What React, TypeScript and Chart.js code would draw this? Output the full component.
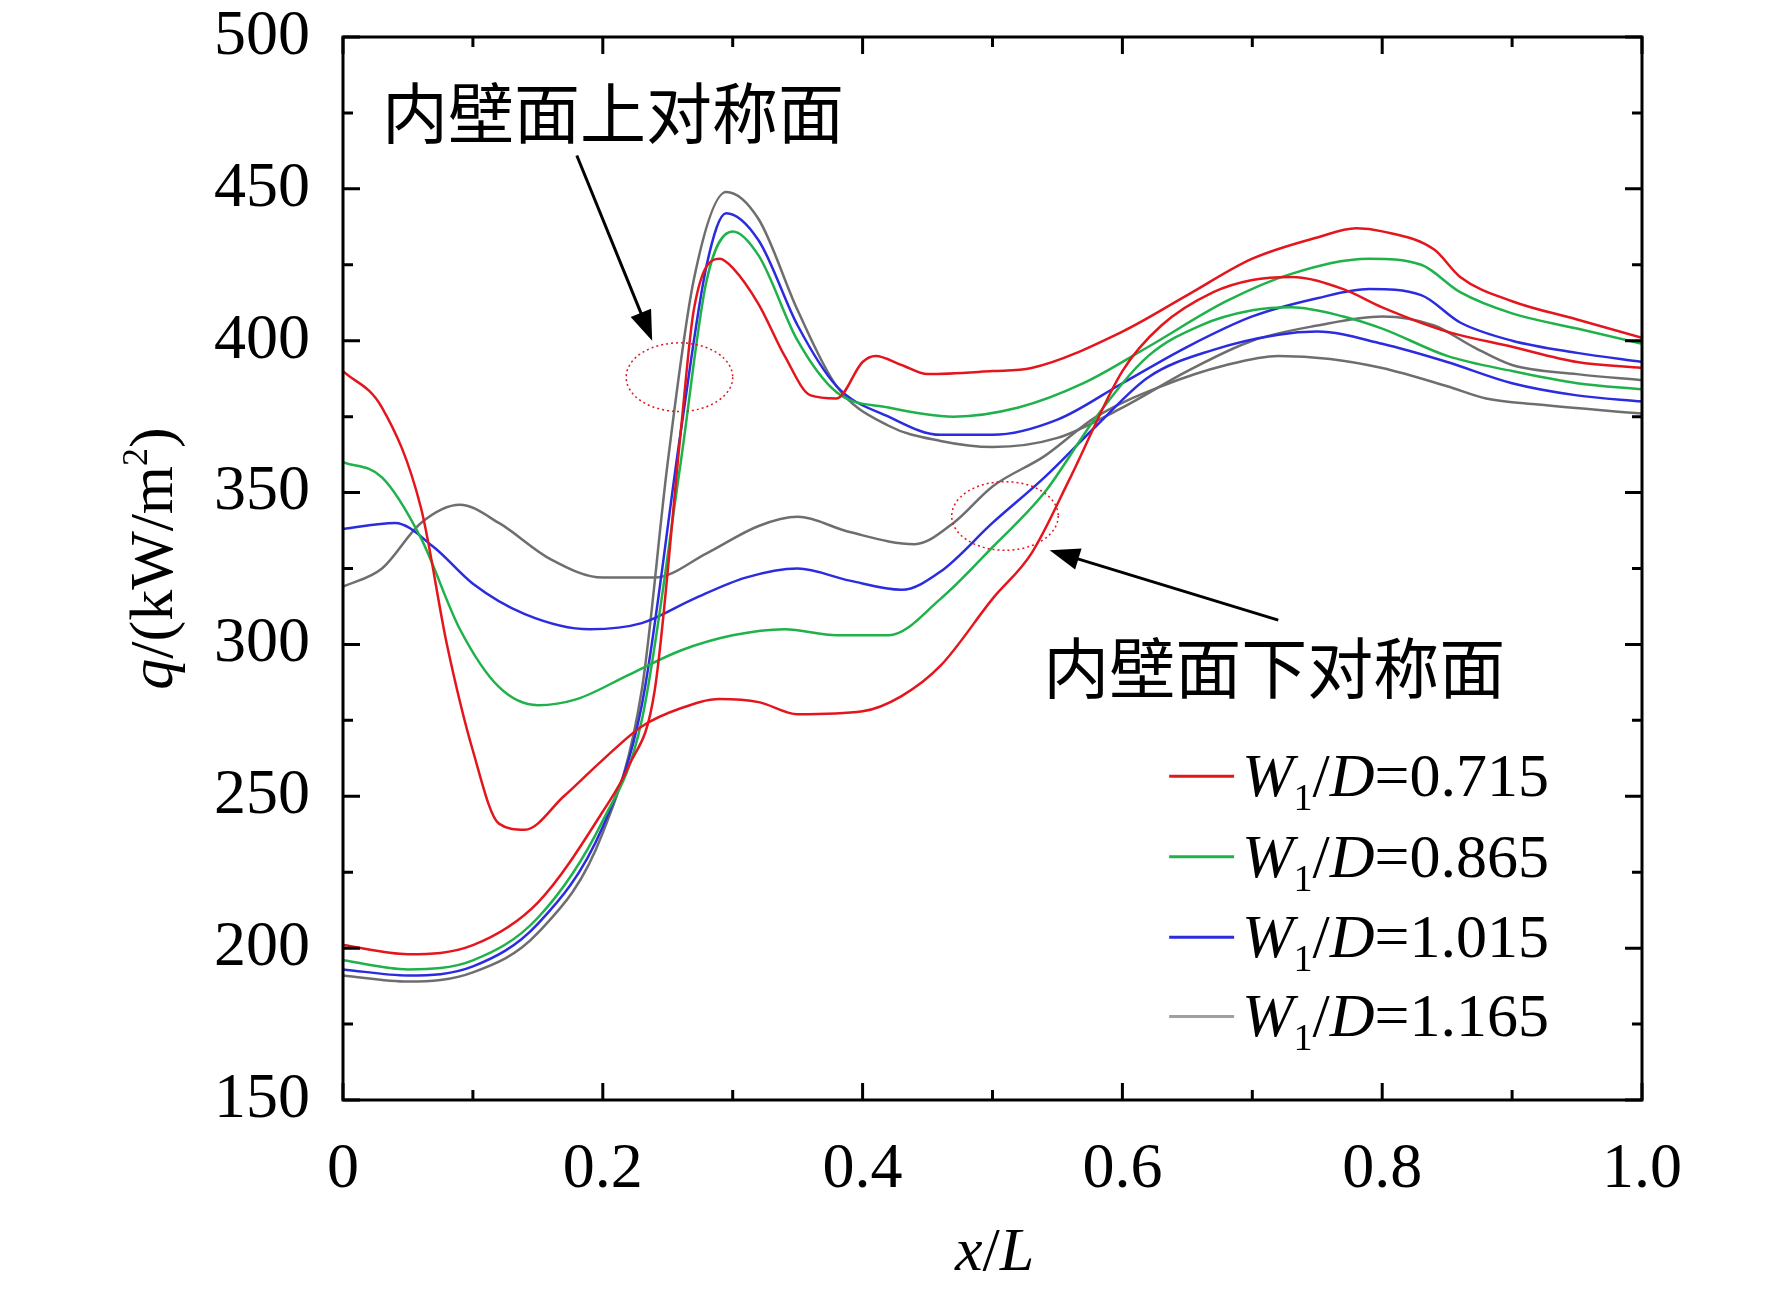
import React, { useEffect, useRef } from "react";
import { Chart, registerables } from "chart.js";
Chart.register(...registerables);

const legendLabels = ["0.715", "0.865", "1.015", "1.165"];
const colors = ["#e3161d", "#1fb24a", "#2b2be0", "#6e6e6e"];
const legendColors = ["#e3161d", "#1fb24a", "#2b2be0", "#a0a0a0"];
const xTicks = [0, 0.2, 0.4, 0.6, 0.8, 1.0];
const xTickLabels = ["0", "0.2", "0.4", "0.6", "0.8", "1.0"];
const yTicks = [150, 200, 250, 300, 350, 400, 450, 500];

type P = [number, number];
const redUpper: P[] = [[0,201],[0.05,198],[0.1,201],[0.15,215],[0.2,245],[0.22,260],[0.24,285],[0.26,370],[0.27,410],[0.29,427],[0.3,424],[0.32,412],[0.34,395],[0.36,382],[0.38,381],[0.4,393],[0.41,395],[0.43,392],[0.45,389],[0.5,390],[0.53,391],[0.6,403],[0.65,415],[0.7,427],[0.75,434],[0.78,437],[0.8,436],[0.84,430],[0.86,421],[0.9,413],[0.95,407],[1.0,401]];
const redLower: P[] = [[0,390],[0.03,378],[0.06,345],[0.08,300],[0.1,265],[0.12,241],[0.14,239],[0.17,250],[0.2,262],[0.23,273],[0.26,279],[0.29,282],[0.32,281],[0.35,277],[0.4,278],[0.43,283],[0.46,293],[0.5,315],[0.53,330],[0.56,355],[0.6,390],[0.63,405],[0.67,416],[0.7,420],[0.73,421],[0.77,417],[0.8,411],[0.85,403],[0.9,398],[0.95,393],[1.0,391]];
const greenUpper: P[] = [[0,196],[0.05,193],[0.1,196],[0.15,210],[0.2,242],[0.23,275],[0.26,360],[0.28,420],[0.3,436],[0.32,428],[0.35,400],[0.38,383],[0.42,378],[0.47,375],[0.52,378],[0.57,386],[0.62,398],[0.68,413],[0.73,422],[0.79,427],[0.83,425],[0.86,416],[0.9,409],[0.95,404],[1.0,399]];
const greenLower: P[] = [[0,360],[0.03,355],[0.06,335],[0.09,305],[0.12,286],[0.15,280],[0.18,282],[0.22,290],[0.26,298],[0.3,303],[0.34,305],[0.38,303],[0.42,303],[0.46,315],[0.5,332],[0.54,350],[0.58,375],[0.62,395],[0.66,405],[0.7,410],[0.73,411],[0.77,408],[0.8,404],[0.85,395],[0.9,390],[0.95,386],[1.0,384]];
const blueUpper: P[] = [[0,193],[0.05,191],[0.1,194],[0.15,208],[0.2,240],[0.23,280],[0.26,370],[0.28,425],[0.295,442],[0.32,433],[0.35,405],[0.38,385],[0.42,375],[0.46,369],[0.5,369],[0.55,374],[0.6,386],[0.65,398],[0.7,408],[0.75,414],[0.79,417],[0.83,415],[0.86,406],[0.9,400],[0.95,396],[1.0,393]];
const blueLower: P[] = [[0,338],[0.04,340],[0.07,332],[0.1,320],[0.14,310],[0.19,305],[0.23,307],[0.27,315],[0.31,322],[0.35,325],[0.39,321],[0.43,318],[0.46,324],[0.5,340],[0.54,355],[0.58,372],[0.62,388],[0.67,397],[0.72,402],[0.75,403],[0.8,399],[0.85,393],[0.9,386],[0.95,382],[1.0,380]];
const grayUpper: P[] = [[0,191],[0.05,189],[0.1,192],[0.15,205],[0.2,238],[0.23,285],[0.25,360],[0.27,420],[0.295,449],[0.32,440],[0.35,410],[0.38,385],[0.42,372],[0.46,367],[0.5,365],[0.55,368],[0.6,378],[0.65,390],[0.7,400],[0.75,405],[0.8,408],[0.84,405],[0.87,398],[0.9,392],[0.95,389],[1.0,387]];
const grayLower: P[] = [[0,319],[0.03,325],[0.06,340],[0.09,346],[0.12,340],[0.16,328],[0.2,322],[0.24,322],[0.28,330],[0.32,339],[0.35,342],[0.39,337],[0.44,333],[0.47,340],[0.5,352],[0.54,362],[0.58,375],[0.63,385],[0.68,392],[0.72,395],[0.76,394],[0.8,391],[0.85,385],[0.88,381],[0.92,379],[1.0,376]];
const seriesPairs = [[redUpper, redLower], [greenUpper, greenLower], [blueUpper, blueLower], [grayUpper, grayLower]];

const upperText = "内壁面上对称面";
const lowerText = "内壁面下对称面";

const SERIF = "'Liberation Serif', 'Times New Roman', serif";
const CJK = "'Noto Sans CJK SC', sans-serif";
const TF = 64; // tick font
const LF = 62; // legend / title font

const decor = {
  id: "decor",
  afterDraw(chart: any) {
    const ctx = chart.ctx;
    const { left, right, top, bottom } = chart.chartArea;
    const xs = chart.scales.x, ys = chart.scales.y;
    const X = (v: number) => xs.getPixelForValue(v);
    const Y = (v: number) => ys.getPixelForValue(v);
    ctx.save();
    ctx.strokeStyle = "#000";
    ctx.lineWidth = 3;
    ctx.strokeRect(left, top, right - left, bottom - top);
    ctx.beginPath();
    for (let v = 0; v <= 1.0001; v += 0.1) {
      const major = Math.round(v * 10) % 2 === 0;
      const L = major ? 17 : 10;
      const px = X(v);
      ctx.moveTo(px, bottom); ctx.lineTo(px, bottom - L);
      ctx.moveTo(px, top); ctx.lineTo(px, top + L);
    }
    for (let v = 150; v <= 500; v += 25) {
      const major = v % 50 === 0;
      const L = major ? 17 : 10;
      const py = Y(v);
      ctx.moveTo(left, py); ctx.lineTo(left + L, py);
      ctx.moveTo(right, py); ctx.lineTo(right - L, py);
    }
    ctx.stroke();
    ctx.fillStyle = "#000";
    ctx.font = `${TF}px ${SERIF}`;
    ctx.textAlign = "right"; ctx.textBaseline = "middle";
    yTicks.forEach((v) => ctx.fillText(String(v), left - 33, Y(v)));
    ctx.textAlign = "center"; ctx.textBaseline = "top";
    xTicks.forEach((v, i) => ctx.fillText(xTickLabels[i], X(v), bottom + 38));
    // x title
    ctx.textAlign = "left"; ctx.textBaseline = "alphabetic";
    const xt = ["x", "/", "L"];
    let w = 0;
    xt.forEach((s) => { ctx.font = s === "/" ? `${LF}px ${SERIF}` : `italic ${LF}px ${SERIF}`; w += ctx.measureText(s).width; });
    let cx = (left + right) / 2 + 2 - w / 2;
    xt.forEach((s) => { ctx.font = s === "/" ? `${LF}px ${SERIF}` : `italic ${LF}px ${SERIF}`; ctx.fillText(s, cx, 1270); cx += ctx.measureText(s).width; });
    // y title
    ctx.save();
    ctx.translate(172, (top + bottom) / 2 - 10);
    ctx.rotate(-Math.PI / 2);
    const parts: [string, string, number][] = [["q", `italic ${LF}px`, 0], ["/(kW/m", `${LF}px`, 0], ["2", "36px", -25], [")", `${LF}px`, 0]];
    let tw = 0;
    parts.forEach(([s, f]) => { ctx.font = `${f} ${SERIF}`; tw += ctx.measureText(s).width; });
    let tx = -tw / 2;
    parts.forEach(([s, f, dy]) => { ctx.font = `${f} ${SERIF}`; ctx.fillText(s, tx, dy); tx += ctx.measureText(s).width; });
    ctx.restore();
    // legend
    legendLabels.forEach((lab, i) => {
      const yv = [256.6, 230.1, 203.6, 177.5][i];
      const py = Y(yv);
      ctx.strokeStyle = legendColors[i]; ctx.lineWidth = 3;
      ctx.beginPath(); ctx.moveTo(X(0.636), py); ctx.lineTo(X(0.686), py); ctx.stroke();
      let lx = X(0.692);
      const base = py + 20;
      const seg: [string, string, number][] = [["W", `italic ${LF}px`, 0], ["1", "38px", 14], ["/", `${LF}px`, 0], ["D", `italic ${LF}px`, 0], ["=" + lab, `${LF}px`, 0]];
      ctx.fillStyle = "#000";
      seg.forEach(([s, f, dy]) => { ctx.font = `${f} ${SERIF}`; ctx.fillText(s, lx, base + dy); lx += ctx.measureText(s).width; });
    });
    // annotations
    ctx.font = `66px ${CJK}`;
    ctx.textBaseline = "middle"; ctx.textAlign = "left";
    ctx.fillText(upperText, X(0.03), Y(475));
    ctx.fillText(lowerText, X(0.539), Y(292.4));
    const arrow = (x1: number, y1: number, x2: number, y2: number) => {
      const a = Math.atan2(y2 - y1, x2 - x1);
      ctx.strokeStyle = "#000"; ctx.lineWidth = 3;
      ctx.beginPath(); ctx.moveTo(x1, y1); ctx.lineTo(x2 - 20 * Math.cos(a), y2 - 20 * Math.sin(a)); ctx.stroke();
      ctx.beginPath();
      ctx.moveTo(x2, y2);
      ctx.lineTo(x2 - 30 * Math.cos(a) + 11 * Math.sin(a), y2 - 30 * Math.sin(a) - 11 * Math.cos(a));
      ctx.lineTo(x2 - 30 * Math.cos(a) - 11 * Math.sin(a), y2 - 30 * Math.sin(a) + 11 * Math.cos(a));
      ctx.closePath(); ctx.fill();
    };
    arrow(X(0.18), Y(461), X(0.238), Y(400));
    arrow(X(0.72), Y(308), X(0.544), Y(331));
    ctx.strokeStyle = "#e3161d"; ctx.lineWidth = 1.5; ctx.setLineDash([2, 3]);
    [[0.259, 388], [0.5096, 342.3]].forEach(([ex, ey]) => {
      const rx = X(ex + 0.041) - X(ex), ry = Y(ey) - Y(ey + 11.3);
      ctx.beginPath(); ctx.ellipse(X(ex), Y(ey), rx, ry, 0, 0, Math.PI * 2); ctx.stroke();
    });
    ctx.restore();
  },
};

export default function App() {
  const ref = useRef<HTMLCanvasElement>(null);
  useEffect(() => {
    document.body.style.margin = "0";
    const datasets: any[] = [];
    seriesPairs.forEach((pair, i) => pair.forEach((pts) => datasets.push({
      data: pts.map(([x, y]) => ({ x, y })),
      borderColor: colors[i], borderWidth: 2.5, pointRadius: 0, tension: 0.4, cubicInterpolationMode: "monotone",
    })));
    const chart = new Chart(ref.current!, {
      type: "line",
      data: { datasets },
      options: {
        animation: false, responsive: false,
        layout: { padding: { left: 343, top: 37, right: 130, bottom: 189 } },
        plugins: { legend: { display: false }, tooltip: { enabled: false } },
        scales: {
          x: { type: "linear", min: 0, max: 1, display: false },
          y: { type: "linear", min: 150, max: 500, display: false },
        },
      },
      plugins: [decor],
    });
    return () => chart.destroy();
  }, []);
  return <canvas ref={ref} width={1772} height={1289} style={{ display: "block", background: "#fff" }} />;
}
